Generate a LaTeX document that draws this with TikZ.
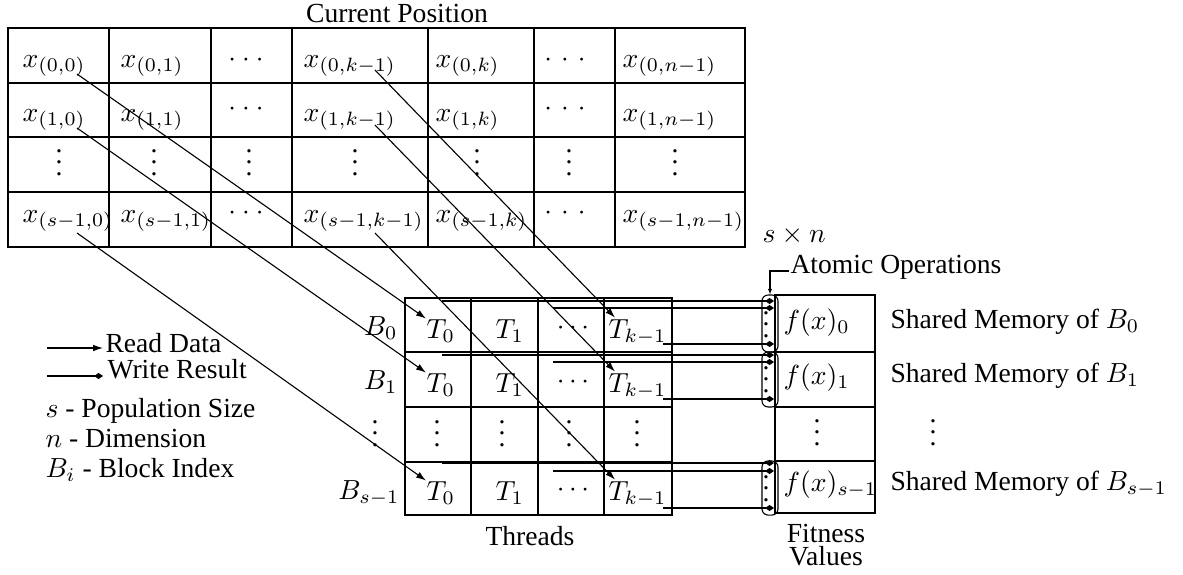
\documentclass[tikz,border=0pt]{standalone}
\usepackage[no-math]{fontspec}
\setmainfont{Liberation Serif}
\usetikzlibrary{arrows.meta,calc}
\newcommand\mydots[1]{\ensuremath{{\cdotp}\mkern#1mu{\cdotp}\mkern#1mu{\cdotp}}}
\newcommand\myvdots{\vbox{\baselineskip4pt\lineskiplimit0pt\hbox{.}\hbox{.}\hbox{.}}}
\begin{document}
\begin{tikzpicture}[x=0.3623pt,y=-0.3623pt,font=\fontsize{10}{12}\selectfont,
  tx/.style={inner sep=0pt,anchor=base west},
  tc/.style={inner sep=0pt,anchor=base},
  te/.style={inner sep=0pt,anchor=base east},
  read/.style={-{Latex[length=3.6pt,width=2.4pt]},line width=0.4pt},
  write/.style={-{Diamond[length=3.2pt,width=2.2pt]},line width=0.4pt},
  aop/.style={draw,rounded corners=2.2pt,minimum width=5.8pt,inner sep=0pt,line width=0.4pt},
  gridline/.style={line width=0.45pt}]
\useasboundingbox (0,0) rectangle (1183,574);

% ---------- top table ----------
\node[tc] (cp) at (397,22) {Current Position};
\draw[gridline] (8,28) rectangle (745,247);
\foreach \x in {109,211,292,428,534,615} \draw[gridline] (\x,28) -- (\x,247);
\foreach \y in {83,137,192} \draw[gridline] (8,\y) -- (745,\y);

\node[tx] (x00) at (22,67) {$x_{(0,0)}$};
\node[tx] (x01) at (120,67) {$x_{(0,1)}$};
\node[tc] (d01) at (246,66) {\mydots{4}};
\node[tx] (x0km) at (303,67) {$x_{(0,k-1)}$};
\node[tx] (x0k) at (435,67) {$x_{(0,k)}$};
\node[tc] (d02) at (565,66) {\mydots{6}};
\node[tx] (x0n) at (622,67) {$x_{(0,n-1)}$};

\node[tx] (x10) at (22,121) {$x_{(1,0)}$};
\node[tx] (x11) at (120,121) {$x_{(1,1)}$};
\node[tc] (d11) at (246,115) {\mydots{4}};
\node[tx] (x1km) at (303,121) {$x_{(1,k-1)}$};
\node[tx] (x1k) at (435,121) {$x_{(1,k)}$};
\node[tc] (d12) at (565,115) {\mydots{6}};
\node[tx] (x1n) at (622,121) {$x_{(1,n-1)}$};

\node[tc] (v1) at (59,175) {\myvdots};
\node[tc] (v2) at (154,175) {\myvdots};
\node[tc] (v3) at (249,175) {\myvdots};
\node[tc] (v4) at (355,175) {\myvdots};
\node[tc] (v5) at (477,175) {\myvdots};
\node[tc] (v6) at (569,175) {\myvdots};
\node[tc] (v7) at (675,175) {\myvdots};

\node[tx] (xs0) at (22,222) {$x_{(s-1,0)}$};
\node[tx] (xs1) at (120,222) {$x_{(s-1,1)}$};
\node[tc] (ds1) at (246,219) {\mydots{4}};
\node[tx] (xskm) at (303,222) {$x_{(s-1,k-1)}$};
\node[tx] (xsk) at (435,222) {$x_{(s-1,k)}$};
\node[tc] (ds2) at (565,219) {\mydots{6}};
\node[tx] (xsn) at (622,222) {$x_{(s-1,n-1)}$};

\node[tx] (sxn) at (762,242) {$s\times n$};

% ---------- threads table ----------
\draw[gridline] (405,298) rectangle (672,515);
\foreach \x in {471,538,604} \draw[gridline] (\x,298) -- (\x,515);
\foreach \y in {352,407,462} \draw[gridline] (405,\y) -- (672,\y);

\node[te] (b0) at (398,335) {$B_0$};
\node[te] (b1) at (398,389) {$B_1$};
\node[tc] (bv) at (375,446) {\myvdots};
\node[te] (bs) at (400,499) {$B_{s-1}$};

\node[tx] (t00) at (426,338) {$T_0$};
\node[tx] (t01) at (495,338) {$T_1$};
\node[tc] (td0) at (573,334) {\mydots{3}};
\node[tx] (t0k) at (608,338) {$T_{k-1}$};

\node[tx] (t10) at (426,392) {$T_0$};
\node[tx] (t11) at (495,392) {$T_1$};
\node[tc] (td1) at (573,388) {\mydots{3}};
\node[tx] (t1k) at (608,392) {$T_{k-1}$};

\node[tc] (tv1) at (437,446) {\myvdots};
\node[tc] (tv2) at (502,446) {\myvdots};
\node[tc] (tv3) at (569,446) {\myvdots};
\node[tc] (tv4) at (637,446) {\myvdots};

\node[tx] (ts0) at (426,500) {$T_0$};
\node[tx] (ts1) at (495,500) {$T_1$};
\node[tc] (tds) at (573,496) {\mydots{3}};
\node[tx] (tsk) at (608,500) {$T_{k-1}$};

\node[tc] (thr) at (530,545) {Threads};

% ---------- fitness table ----------
\draw[gridline] (775,295) rectangle (875,513);
\foreach \y in {352,407,461} \draw[gridline] (775,\y) -- (875,\y);
\node[tx] (f0) at (783,329) {$f(x)_0$};
\node[tx] (f1) at (783,384) {$f(x)_1$};
\node[tc] (fv) at (817,445) {\myvdots};
\node[tx] (fs) at (783,491) {$f(x)_{s-1}$};
\node[tc] (fit1) at (826,542) {Fitness};
\node[tc] (fit2) at (826,565) {Values};

\node[tx] (sm0) at (890,328) {Shared Memory of $B_0$};
\node[tx] (sm1) at (890,382) {Shared Memory of $B_1$};
\node[tc] (smv) at (933,445) {\myvdots};
\node[tx] (sms) at (890,490) {Shared Memory of $B_{s-1}$};

% ---------- atomic operation groups ----------
\node[aop,minimum height=20.65pt] (ao0) at (770,323.5) {};
\node[aop,minimum height=19.9pt] (ao1) at (770,379.5) {};
\node[aop,minimum height=19.6pt] (ao2) at (770,488) {};
\node[tc] (aod0) at (766,337) {\myvdots};
\node[tc] (aod1) at (766,392) {\myvdots};
\node[tc] (aod2) at (766,501) {\myvdots};
\coordinate (aoend) at (774,0);

\node[tx] (atom) at (790,273) {Atomic Operations};
\draw[-{Latex[open,length=2pt,width=1.6pt]},line width=0.4pt]
  ($(atom.base west)+(-1,-2)$) -| (ao0.north);

% ---------- write lines ----------
\coordinate (w0a) at (442,301); \coordinate (w0b) at (553,308); \coordinate (w0c) at (663,344);
\coordinate (w1a) at (442,355); \coordinate (w1b) at (553,362); \coordinate (w1c) at (663,399);
\coordinate (w2a) at (442,463); \coordinate (w2b) at (553,471); \coordinate (w2c) at (663,508);
\foreach \c in {w0a,w0b,w0c,w1a,w1b,w1c,w2a,w2b,w2c}
  \draw[write] (\c) -- (\c -| aoend);

% ---------- read arrows ----------
\coordinate (r00) at (77,74);  \coordinate (r10) at (77,128);  \coordinate (rs0) at (77,233);
\coordinate (r0k) at (375,70); \coordinate (r1k) at (375,125); \coordinate (rsk) at (375,233);
\draw[read] (r00) -- (t00.north west);
\draw[read] (r10) -- (t10.north west);
\draw[read] (rs0) -- (ts0.north west);
\draw[read] (r0k) -- ($(t0k.north west)+(7,-1)$);
\draw[read] (r1k) -- ($(t1k.north west)+(7,-1)$);
\draw[read] (rsk) -- ($(tsk.north west)+(7,-1)$);

% ---------- legend ----------
\node[tx] (lrd) at (105,352) {Read Data};
\node[tx] (lwr) at (107,378) {Write Result};
\coordinate (lr) at (47,348); \coordinate (lw) at (47,376);
\draw[read] (lr) -- ($(lr -| lrd.west)+(-2,0)$);
\draw[write] (lw) -- ($(lw -| lwr.west)+(-4,0)$);
\node[tx] (ls) at (45,417) {$s$ - Population Size};
\node[tx] (ln) at (45,447) {$n$ - Dimension};
\node[tx] (lb) at (45,477) {$B_i$ - Block Index};
\end{tikzpicture}
\end{document}
